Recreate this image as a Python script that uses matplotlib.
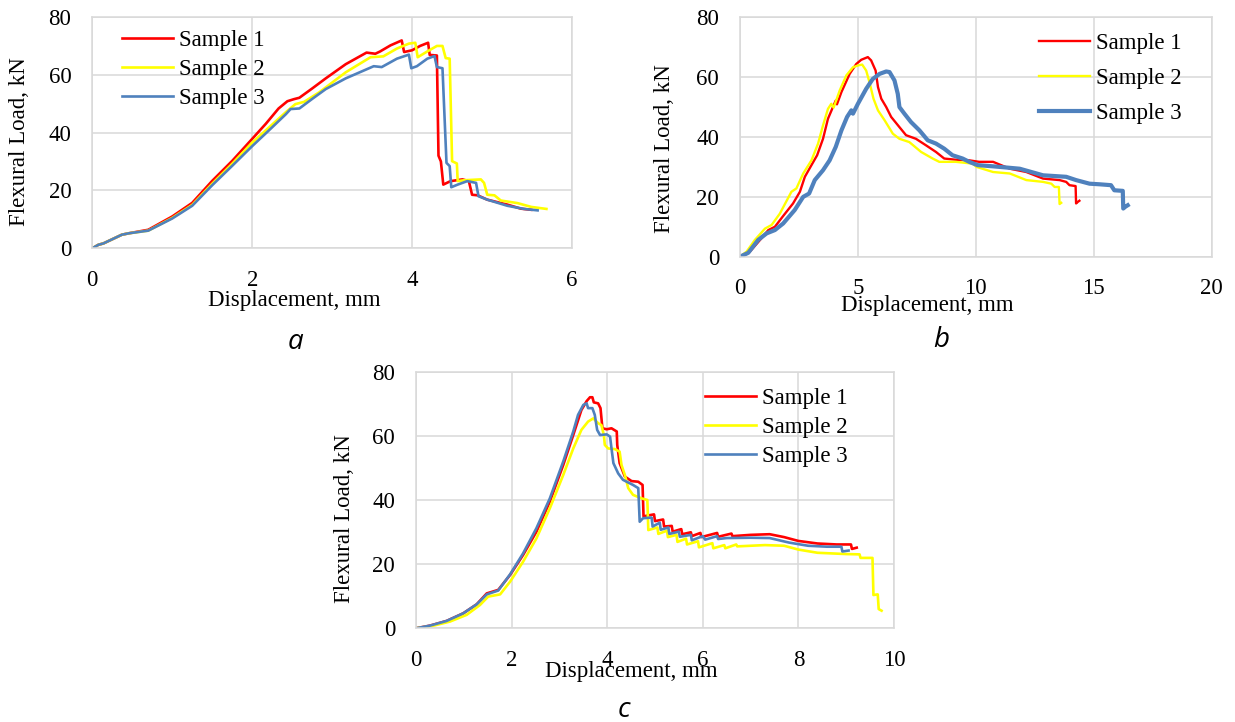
import matplotlib
matplotlib.use('Agg')
import matplotlib.pyplot as plt

# Flexural load-displacement curves, three samples per series

labels = ['Sample 1', 'Sample 2', 'Sample 3']
colors = ['#FF0000', '#FFFF00', '#4F81BD']

# series a
a_x1 = [0, 0.075, 0.14, 0.37, 0.46, 0.70, 1.0, 1.25, 1.5, 1.75,
        2.0, 2.17, 2.33, 2.44, 2.52, 2.59, 2.75, 2.92, 3.17, 3.43,
        3.54, 3.6, 3.73, 3.87, 3.9, 4.0, 4.1, 4.2, 4.22, 4.31,
        4.33, 4.36, 4.39, 4.48, 4.63, 4.71, 4.75, 4.82, 4.94, 5.19,
        5.36, 5.49]
a_y1 = [0, 1.2, 1.7, 4.7, 5.2, 6.4, 11, 15.7, 23.3, 30.2,
        37.8, 43, 48.3, 50.8, 51.5, 52, 55.2, 58.7, 63.6, 67.6,
        67.2, 68, 70.1, 71.8, 67.8, 68.4, 69.9, 71.0, 66.8, 66.6,
        32, 30, 22, 23.2, 23.8, 23.2, 18.5, 18.3, 16.8, 15.1,
        13.7, 13.3]
a_x2 = [0, 0.075, 0.14, 0.37, 0.46, 0.70, 1.0, 1.25, 1.5, 1.75,
        2.0, 2.2, 2.42, 2.54, 2.65, 2.84, 3.17, 3.48, 3.64, 3.81,
        3.96, 4.04, 4.07, 4.19, 4.31, 4.38, 4.42, 4.47, 4.50, 4.56,
        4.57, 4.65, 4.86, 4.90, 4.94, 5.03, 5.11, 5.32, 5.49, 5.68]
a_y2 = [0, 1.2, 1.7, 4.7, 5.2, 6.1, 10.5, 15, 22.3, 29.2,
        36.5, 41.5, 47, 49.8, 50.6, 53.9, 60.8, 66, 66.3, 69,
        70.7, 71, 66, 68, 69.9, 69.9, 65.7, 65.5, 30.1, 29.3,
        23.2, 23.5, 23.8, 22.6, 18.5, 18.3, 16.5, 15.6, 14.3, 13.6]
a_x3 = [0, 0.075, 0.14, 0.37, 0.46, 0.70, 1.0, 1.25, 1.5, 1.75,
        2.0, 2.2, 2.42, 2.48, 2.59, 2.75, 2.92, 3.17, 3.52, 3.62,
        3.81, 3.96, 3.99, 4.06, 4.19, 4.28, 4.31, 4.38, 4.43, 4.47,
        4.49, 4.57, 4.69, 4.80, 4.83, 4.94, 5.19, 5.40, 5.57]
a_y3 = [0, 1.2, 1.7, 4.7, 5.2, 6.1, 10.3, 14.7, 21.8, 28.5,
        35.3, 40.5, 46.3, 48.1, 48.3, 51.6, 55, 58.7, 62.9, 62.6,
        65.5, 66.9, 62.2, 62.9, 65.5, 66.4, 62.6, 62.2, 29.5, 28.4,
        21.1, 22.0, 23.2, 22.6, 18.0, 16.8, 14.7, 13.6, 13.1]

# series b
b_x1 = [0, 0.42, 0.85, 1.2, 1.48, 1.83, 2.25, 2.54, 2.75, 3.03,
        3.27, 3.52, 3.73, 3.94, 4.06, 4.11, 4.3, 4.65, 4.93, 5.14,
        5.42, 5.56, 5.75, 5.85, 5.99, 6.2, 6.41, 6.76, 7.04, 7.46,
        7.89, 8.31, 8.66, 9.15, 9.72, 10.14, 10.73, 11.44, 12.14, 12.85,
        13.55, 13.83, 13.97, 14.23, 14.25, 14.32, 14.39]
b_y1 = [0, 1.7, 5.6, 8.9, 10, 13.6, 17.8, 21.7, 26.7, 30.6,
        33.9, 39.4, 46.1, 50, 52.2, 50.9, 55, 61.1, 64.4, 65.8,
        66.7, 65.6, 62.2, 56.7, 52.8, 50, 46.7, 43.3, 40.6, 39.4,
        37.2, 35, 32.8, 32.4, 32.2, 31.7, 31.7, 29.4, 28.3, 26.1,
        25.6, 25, 23.9, 23.6, 17.8, 18.3, 18.7]
b_x2 = [0, 0.28, 0.63, 1.06, 1.34, 1.69, 2.18, 2.39, 2.68, 3.03,
        3.31, 3.52, 3.73, 3.87, 3.97, 4.23, 4.51, 4.79, 5.0, 5.18,
        5.35, 5.49, 5.66, 5.85, 6.13, 6.48, 6.76, 7.18, 7.68, 8.17,
        8.45, 9.15, 9.86, 10.03, 10.73, 11.44, 12.14, 12.85, 13.2, 13.34,
        13.52, 13.55, 13.62]
b_y2 = [0, 1.7, 5.6, 9.4, 10.6, 14.4, 21.7, 22.8, 27.8, 32.2,
        37.8, 43.9, 49.4, 51.1, 49.8, 55.6, 60.6, 63.3, 63.9, 64.2,
        62.2, 58.3, 52.8, 48.9, 45.6, 41.1, 39.4, 38.3, 35, 32.8,
        31.7, 31.7, 31.1, 30.0, 28.3, 27.8, 25.6, 25, 24.4, 23.3,
        23.3, 17.6, 18]
b_x3 = [0, 0.35, 0.77, 1.13, 1.48, 1.83, 2.32, 2.68, 2.93, 3.17,
        3.52, 3.8, 4.06, 4.3, 4.54, 4.72, 4.79, 5.0, 5.35, 5.63,
        5.92, 6.2, 6.34, 6.55, 6.69, 6.76, 6.97, 7.25, 7.61, 7.96,
        8.31, 8.66, 9.01, 9.44, 9.72, 10.07, 10.73, 11.86, 12.85, 13.83,
        14.25, 14.82, 15.24, 15.73, 15.87, 16.23, 16.25, 16.34, 16.44]
b_y3 = [0, 1.3, 5.6, 7.8, 8.9, 11.1, 15.6, 20, 21.1, 25.6,
        28.9, 32.2, 36.7, 42.2, 46.7, 48.9, 47.8, 51.1, 56.1, 59.4,
        61.1, 61.9, 61.7, 58.9, 54.4, 50, 47.8, 45, 42.2, 38.9,
        37.8, 36.1, 33.9, 32.8, 31.7, 30.6, 30.2, 29.4, 27.2, 26.7,
        25.6, 24.4, 24.2, 23.9, 22.2, 22, 16.1, 16.7, 17.2]

# series c
c_x1 = [0, 0.29, 0.64, 0.99, 1.27, 1.48, 1.72, 1.97, 2.24, 2.52,
        2.8, 3.08, 3.29, 3.46, 3.57, 3.64, 3.69, 3.72, 3.81, 3.86,
        3.90, 3.99, 4.09, 4.2, 4.21, 4.26, 4.37, 4.51, 4.65, 4.74,
        4.76, 4.98, 5.0, 5.17, 5.19, 5.35, 5.37, 5.55, 5.57, 5.75,
        5.77, 5.95, 5.97, 6.3, 6.32, 6.6, 6.62, 7.0, 7.4, 7.7,
        8.0, 8.4, 8.8, 9.1, 9.12, 9.22]
c_y1 = [0, 0.83, 2.3, 4.7, 7.5, 10.9, 12, 16.7, 22.9, 30.2,
        39.6, 51, 60.4, 68.2, 71, 72.2, 72.2, 70.6, 70.3, 68.8,
        62.5, 62.2, 62.5, 61.5, 57.3, 51.6, 47.4, 46, 45.8, 44.8,
        35.0, 35.6, 33.5, 34.0, 31.8, 32.0, 30.2, 31.0, 29.4, 30.0,
        28.8, 29.8, 28.5, 29.8, 28.6, 29.6, 28.8, 29.2, 29.4, 28.5,
        27.3, 26.5, 26.2, 26.2, 24.8, 25.2]
c_x2 = [0, 0.36, 0.71, 1.06, 1.34, 1.51, 1.76, 1.97, 2.24, 2.52,
        2.8, 3.08, 3.29, 3.46, 3.6, 3.71, 3.81, 3.88, 3.93, 3.95,
        4.02, 4.16, 4.26, 4.3, 4.37, 4.44, 4.54, 4.72, 4.84, 4.86,
        5.05, 5.07, 5.25, 5.27, 5.45, 5.47, 5.65, 5.67, 5.9, 5.92,
        6.2, 6.22, 6.45, 6.47, 6.7, 6.72, 7.3, 7.7, 8.0, 8.4,
        9.0, 9.28, 9.3, 9.55, 9.57, 9.66, 9.68, 9.74]
c_y2 = [0, 0.8, 2.1, 4.2, 7.3, 9.9, 10.6, 14.6, 20.8, 28.1,
        37.5, 47.9, 56.2, 62, 64.6, 65.6, 64.1, 63.5, 60.4, 57.3,
        56.2, 56, 55.2, 51, 47.9, 43.8, 41.7, 40.6, 40.1, 30.7,
        31.5, 29.5, 30.5, 28.5, 29.2, 27.0, 28.0, 26.2, 27.2, 25.3,
        26.6, 25.0, 26.0, 25.0, 26.2, 25.6, 26.0, 25.8, 24.6, 23.6,
        23.2, 23.1, 22.0, 22.0, 10.4, 10.6, 6.0, 5.5]
c_x3 = [0, 0.29, 0.64, 0.99, 1.27, 1.48, 1.72, 1.97, 2.24, 2.52,
        2.8, 3.08, 3.29, 3.39, 3.5, 3.57, 3.6, 3.69, 3.74, 3.79,
        3.85, 3.99, 4.06, 4.09, 4.13, 4.23, 4.33, 4.54, 4.65, 4.68,
        4.75, 4.93, 4.95, 5.1, 5.12, 5.28, 5.3, 5.5, 5.52, 5.75,
        5.77, 6.0, 6.05, 6.3, 6.32, 6.5, 7.0, 7.4, 7.8, 8.2,
        8.6, 8.9, 8.92, 9.05]
c_y3 = [0, 0.83, 2.3, 4.7, 7.5, 10.6, 11.8, 16.9, 23.4, 31.3,
        40.6, 52.1, 61.5, 66.7, 69.8, 70.3, 68.8, 68.8, 66.7, 62,
        60.4, 60.6, 59.9, 56.2, 51.6, 48.4, 46.4, 44.8, 43.8, 33.3,
        34.4, 34.6, 31.8, 33.0, 30.8, 31.5, 29.5, 30.2, 28.6, 29.2,
        27.5, 28.8, 27.7, 28.8, 27.9, 28.2, 28.3, 28.2, 26.8, 25.8,
        25.5, 25.5, 24.0, 24.3]

plt.rcParams['font.family'] = ['Liberation Serif', 'DejaVu Serif']
fs = 16.5
grid_col = '#D9D9D9'

fig = plt.figure(figsize=(12.35, 7.22), dpi=100)


def draw_panel(rect, curves, widths, xmax, xstep, leg_pos, leg_space, xlab_pos, ylab_pos):
    ax = fig.add_axes(rect)
    for (x, y), c, lab, lw in zip(curves, colors, labels, widths):
        ax.plot(x, y, color=c, lw=lw, label=lab, solid_joinstyle='round')
    ax.set_xlim(0, xmax)
    ax.set_ylim(0, 80)
    ax.set_xticks(range(0, xmax + 1, xstep))
    ax.set_yticks(range(0, 81, 20))
    ax.grid(True, color=grid_col, lw=1.1)
    ax.set_axisbelow(True)
    for sp in ax.spines.values():
        sp.set_color(grid_col)
        sp.set_linewidth(1.1)
    ax.tick_params(axis='both', length=0, labelsize=fs)
    ax.tick_params(axis='x', pad=15.5)
    ax.tick_params(axis='y', pad=15)
    ax.set_xlabel('Displacement, mm', fontsize=fs)
    ax.set_ylabel('Flexural Load, kN', fontsize=fs)
    ax.xaxis.set_label_coords(*xlab_pos)
    ax.yaxis.set_label_coords(*ylab_pos)
    ax.legend(loc='upper left', bbox_to_anchor=leg_pos, frameon=False, fontsize=fs,
              handlelength=2.24, handletextpad=0.26, borderpad=0, borderaxespad=0,
              labelspacing=leg_space)
    return ax


draw_panel([0.07474, 0.65609, 0.38842, 0.32078],
           [(a_x1, a_y1), (a_x2, a_y2), (a_x3, a_y3)], [1.9, 1.9, 1.9],
           6, 2, (0.062, 0.9415), 0.35, (0.4205, -0.18), (-0.129, 0.463))
draw_panel([0.59919, 0.64446, 0.38194, 0.33158],
           [(b_x1, b_y1), (b_x2, b_y2), (b_x3, b_y3)], [1.7, 1.7, 3.0],
           20, 5, (0.634, 0.935), 0.61, (0.3964, -0.159), (-0.137, 0.452))
draw_panel([0.33684, 0.12978, 0.38704, 0.35457],
           [(c_x1, c_y1), (c_x2, c_y2), (c_x3, c_y3)], [1.9, 1.9, 1.9],
           10, 2, (0.6046, 0.939), 0.35, (0.4498, -0.128), (-0.127, 0.427))

# panel letters under each chart
for s, px, py in [('a', 0.2397, 0.5263), ('b', 0.7619, 0.5291), ('c', 0.5053, 0.0166)]:
    fig.text(px, py, s, family='Open Sans', style='italic', fontsize=20,
             ha='center', va='center')

fig.savefig('out.png', dpi=100)
